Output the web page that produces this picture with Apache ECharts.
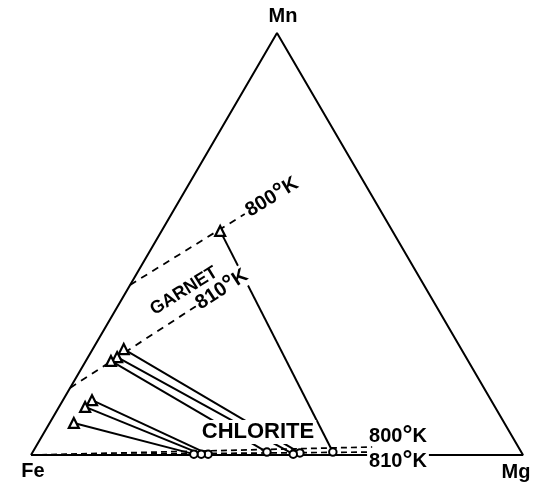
<!DOCTYPE html>
<html>
<head>
<meta charset="utf-8">
<script src="https://cdn.jsdelivr.net/npm/echarts@6/dist/echarts.min.js"></script>
<style>
  html, body { margin: 0; padding: 0; background: #fff; }
  #chart { width: 542px; height: 485px; }
</style>
</head>
<body>
<div id="chart"></div>
<script>
// Compositions are given as [Fe, Mg, Mn] mole fractions.
const vertices = [[1, 0, 0], [0, 1, 0], [0, 0, 1], [1, 0, 0]];

// Coexisting garnet / chlorite pairs (tie lines join garnet[i] to chlorite[i]).
const garnet = [
  [0.350, 0.119, 0.531],
  [0.686, 0.063, 0.251],
  [0.709, 0.059, 0.232],
  [0.726, 0.051, 0.223],
  [0.811, 0.059, 0.130],
  [0.833, 0.053, 0.114],
  [0.875, 0.049, 0.076]
];
const chlorite = [
  [0.383, 0.610, 0.007],
  [0.451, 0.544, 0.005],
  [0.466, 0.532, 0.002],
  [0.517, 0.476, 0.007],
  [0.639, 0.359, 0.002],
  [0.653, 0.345, 0.002],
  [0.668, 0.330, 0.002]
];

// Isotherms (dashed)
const garnetIso800 = [[0.597, 0.000, 0.403], [0.280, 0.149, 0.571]];
const garnetIso810 = [[0.841, 0.000, 0.159], [0.484, 0.161, 0.355]];
const chloriteIso800 = [[1.000, 0.000, 0.000], [0.297, 0.684, 0.019]];
const chloriteIso810 = [[1.000, 0.000, 0.000], [0.304, 0.689, 0.007]];

const isoTemps = ['800', '810'];

// Ternary -> cartesian: x = Mg + Mn/2, y = Mn
function tern(c) {
  const s = c[0] + c[1] + c[2];
  return [(c[1] + c[2] / 2) / s, c[2] / s];
}

const chart = echarts.init(document.getElementById('chart'), null, { renderer: 'canvas' });

const lineCommon = { type: 'line', symbol: 'none', silent: true, animation: false };
const series = [];

series.push(Object.assign({}, lineCommon, {
  data: vertices.map(tern),
  lineStyle: { color: '#000', width: 2 },
  z: 2
}));

[garnetIso800, garnetIso810].forEach(function (iso) {
  series.push(Object.assign({}, lineCommon, {
    data: iso.map(tern),
    lineStyle: { color: '#000', width: 1.8, type: [7, 6] },
    z: 3
  }));
});
[chloriteIso800, chloriteIso810].forEach(function (iso) {
  series.push(Object.assign({}, lineCommon, {
    data: iso.map(tern),
    lineStyle: { color: '#000', width: 1.7, type: [6, 4] },
    z: 3
  }));
});

garnet.forEach(function (g, i) {
  series.push(Object.assign({}, lineCommon, {
    data: [tern(g), tern(chlorite[i])],
    lineStyle: { color: '#000', width: 2 },
    z: 3
  }));
});

series.push({
  type: 'scatter',
  data: garnet.map(tern),
  symbol: 'triangle',
  symbolSize: 10,
  itemStyle: { color: '#fff', borderColor: '#000', borderWidth: 2.2, opacity: 1 },
  z: 5,
  animation: false
});
series.push({
  type: 'scatter',
  data: chlorite.map(tern),
  symbol: 'circle',
  symbolSize: 7.5,
  itemStyle: { color: '#fff', borderColor: '#000', borderWidth: 2, opacity: 1 },
  z: 5,
  animation: false
});

chart.setOption({
  backgroundColor: '#fff',
  animation: false,
  grid: { left: 31, top: 33, width: 492, height: 422 },
  xAxis: { type: 'value', min: 0, max: 1, show: false },
  yAxis: { type: 'value', min: 0, max: 1, show: false },
  series: series
});

// Text labels
const font = 'Liberation Sans, Arial, sans-serif';
function txt(text, x, y, size, opts) {
  opts = opts || {};
  return {
    type: 'text',
    x: x, y: y,
    rotation: (opts.rot || 0) * Math.PI / 180,
    z: 100,
    style: {
      text: text,
      x: 0, y: 0,
      fill: '#000',
      font: 'bold ' + size + 'px ' + font,
      align: 'center',
      verticalAlign: 'middle',
      backgroundColor: opts.bg ? '#fff' : undefined,
      padding: opts.bg ? [1, 2, 1, 2] : undefined
    }
  };
}

// Temperature label "T°K" with an enlarged degree sign
function tempLabel(t, x, y, size, opts) {
  opts = opts || {};
  return {
    type: 'text',
    x: x, y: y,
    rotation: (opts.rot || 0) * Math.PI / 180,
    z: 100,
    style: {
      text: '{n|' + t + '}{d|°}{n|K}',
      x: 0, y: 0,
      align: 'center',
      verticalAlign: 'middle',
      backgroundColor: opts.bg ? '#fff' : undefined,
      padding: opts.bg ? [0, 2, 0, 2] : undefined,
      rich: {
        n: { fill: '#000', font: 'bold ' + size + 'px ' + font, lineHeight: size + 2 },
        d: { fill: '#000', font: 'bold ' + Math.round(size * 1.25) + 'px ' + font,
             lineHeight: size + 2, padding: [0, 0, 0, 0] }
      }
    }
  };
}

// Place an isotherm label just beyond the end of its line, following its direction
function endLabel(iso, t, gap, size, bg) {
  const a = chart.convertToPixel({ gridIndex: 0 }, tern(iso[0]));
  const b = chart.convertToPixel({ gridIndex: 0 }, tern(iso[1]));
  const dx = b[0] - a[0], dy = b[1] - a[1];
  const len = Math.sqrt(dx * dx + dy * dy);
  const ux = dx / len, uy = dy / len;
  const ang = -Math.atan2(dy, dx) * 180 / Math.PI;
  return tempLabel(t, b[0] + ux * gap, b[1] + uy * gap, size, { rot: ang, bg: bg });
}

chart.setOption({
  graphic: [
    txt('Mn', 283, 16, 20),
    txt('Fe', 33, 471, 20),
    txt('Mg', 516, 472, 20),
    txt('GARNET', 184, 291, 18, { rot: 32 }),
    txt('CHLORITE', 258, 432, 22, { bg: true }),
    endLabel(garnetIso800, isoTemps[0], 32, 20, true),
    endLabel(garnetIso810, isoTemps[1], 29, 20, true),
    tempLabel(isoTemps[0], 398, 436, 20),
    tempLabel(isoTemps[1], 398, 461, 20, { bg: true })
  ]
});
</script>
</body>
</html>
